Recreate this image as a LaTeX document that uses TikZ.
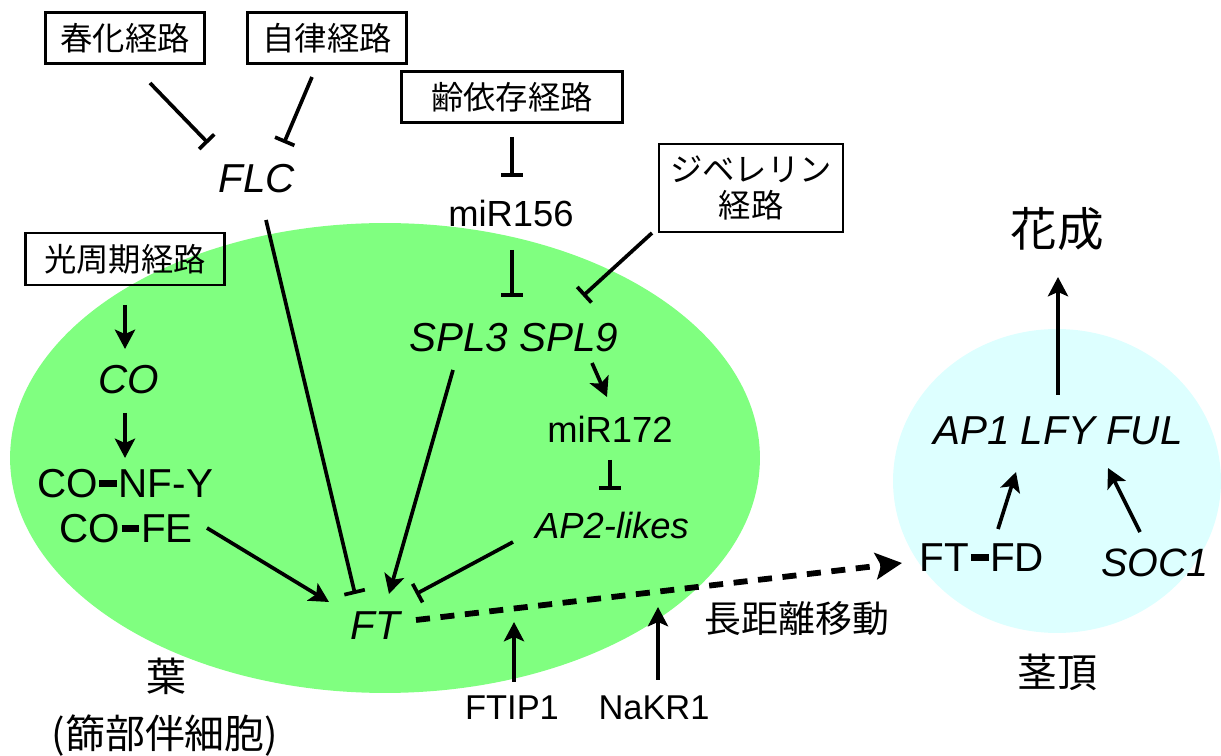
\documentclass[tikz,border=0pt]{standalone}
\usepackage{fontspec}
\setmainfont{Liberation Sans}
\newfontfamily\jp{Noto Sans CJK JP}
\usetikzlibrary{arrows.meta}
\definecolor{leafgreen}{RGB}{128,255,128}
\definecolor{apexcyan}{RGB}{221,255,255}
\newcommand\bnd{\kern1pt\rule[6pt]{10pt}{4pt}\kern1pt}
\begin{document}
\begin{tikzpicture}[x=0.02cm,y=-0.02cm,
  every node/.style={inner sep=0pt, outer sep=0pt},
  ln/.style={line width=2.1pt},
  act/.style={ln, -{Stealth[length=11pt,width=11.5pt,inset=2.5pt]}},
  inh/.style={ln, -{Bar[width=12pt]}},
  pbox/.style={draw, line width=1.2pt, font=\jp\fontsize{18.4}{20}\selectfont, align=center},
  gene/.style={font=\itshape\fontsize{23}{27}\selectfont, anchor=base},
  prot/.style={font=\fontsize{23}{27}\selectfont, anchor=base},
  rna/.style={font=\fontsize{20.7}{25}\selectfont, anchor=base},
  small/.style={font=\fontsize{19.6}{24}\selectfont, anchor=base},
  jlabel/.style={font=\jp\fontsize{22.7}{27}\selectfont},
]
\useasboundingbox (0,0) rectangle (1221,756);
% tissues
\fill[leafgreen] (385,458) ellipse [x radius=7.5cm, y radius=4.7cm];
\fill[apexcyan] (1057,481) ellipse [x radius=3.28cm, y radius=3.04cm];

% pathway boxes
\node[pbox, minimum width=3.18cm, minimum height=1.02cm] (vern) at (125,38) {春化経路};
\node[pbox, minimum width=3.18cm, minimum height=1.02cm] (auto) at (327,38) {自律経路};
\node[pbox, minimum width=4.42cm, minimum height=1.02cm] (age) at (512,97) {齢依存経路};
\node[pbox, minimum width=3.68cm, minimum height=1.76cm] (gib) at (751,188) {ジベレリン\\経路};
\node[pbox, minimum width=3.98cm, minimum height=1.04cm] (photo) at (125,259) {光周期経路};

% genes and products
\node[gene] (flc) at (257,193) {FLC};
\node[rna] (mir156) at (511,227) {miR156};
\node[gene] (spl) at (514,352) {SPL3 SPL9};
\node[rna] (mir172) at (610,443) {miR172};
\node[font=\itshape\fontsize{20.7}{25}\selectfont, anchor=base] (ap2) at (612,539) {AP2-likes};
\node[gene] (co) at (129,394) {CO};
\node[prot] (confy) at (125,498) {CO\bnd NF-Y};
\node[prot] (cofe) at (126,543) {CO\bnd FE};
\node[gene] (ft) at (375,640) {FT};
\node[small] (ftip1) at (512,720) {FTIP1};
\node[small] (nakr1) at (654,720) {NaKR1};
\node[gene] (ap1) at (1058,445) {AP1 LFY FUL};
\node[prot] (ftfd) at (982,572) {FT\bnd FD};
\node[font=\itshape\fontsize{22.5}{27}\selectfont, anchor=base] (soc1) at (1155,577) {SOC1};

% Japanese labels
\node[font=\jp\fontsize{26.5}{30}\selectfont] (flower) at (1057,229) {花成};
\node[jlabel] (leaf) at (166,676) {葉};
\node[jlabel] (cc) at (165,736) {(篩部伴細胞)};
\node[jlabel] (apex) at (1057,672) {茎頂};
\node[font=\jp\fontsize{21}{25}\selectfont] (lr) at (797,619) {長距離移動};

% connector end points
\coordinate (vern-o) at (150,83);   \coordinate (flc-i1) at (208,143);
\coordinate (auto-o) at (312,77);   \coordinate (flc-i2) at (284,143);
\coordinate (flc-o) at (266,220);   \coordinate (ft-i1) at (355,594);
\coordinate (age-o) at (512,137);   \coordinate (mir156-i) at (512,177);
\coordinate (mir156-o) at (512,250);\coordinate (spl-i1) at (512,297);
\coordinate (gib-o) at (652,233);   \coordinate (spl-i2) at (583,296);
\coordinate (photo-o) at (125,305); \coordinate (co-i) at (125,349);
\coordinate (co-o) at (125,413);    \coordinate (confy-i) at (125,458);
\coordinate (cofe-o) at (207,528);  \coordinate (ft-i2) at (329,602);
\coordinate (spl-o1) at (453,370);  \coordinate (ft-i3) at (389,594);
\coordinate (spl-o2) at (592,363);  \coordinate (mir172-i) at (607,397);
\coordinate (mir172-o) at (610,460);\coordinate (ap2-i) at (610,490);
\coordinate (ap2-o) at (513,542);   \coordinate (ft-i4) at (416,594);
\coordinate (ft-o) at (416,620);    \coordinate (ftfd-i) at (902,563);
\coordinate (ftip1-o) at (514,682); \coordinate (move-i1) at (514,622);
\coordinate (nakr1-o) at (658,680); \coordinate (move-i2) at (658,607);
\coordinate (ap1-o) at (1058,395);  \coordinate (flower-i) at (1058,277);
\coordinate (ftfd-o) at (998,529);  \coordinate (ap1-i1) at (1016,472);
\coordinate (soc1-o) at (1140,532); \coordinate (ap1-i2) at (1108,468);

% connectors
\draw[inh] (vern-o) -- (flc-i1);
\draw[inh] (auto-o) -- (flc-i2);
\draw[inh] (flc-o) -- (ft-i1);
\draw[inh] (age-o) -- (mir156-i);
\draw[inh] (mir156-o) -- (spl-i1);
\draw[inh] (gib-o) -- (spl-i2);
\draw[act] (photo-o) -- (co-i);
\draw[act] (co-o) -- (confy-i);
\draw[act] (cofe-o) -- (ft-i2);
\draw[act] (spl-o1) -- (ft-i3);
\draw[act] (spl-o2) -- (mir172-i);
\draw[inh] (mir172-o) -- (ap2-i);
\draw[inh] (ap2-o) -- (ft-i4);
\draw[line width=3.3pt, dash pattern=on 8pt off 6pt, -{Stealth[length=15pt,width=15pt,inset=3pt]}] (ft-o) -- (ftfd-i);
\draw[act] (ftip1-o) -- (move-i1);
\draw[act] (nakr1-o) -- (move-i2);
\draw[act] (ap1-o) -- (flower-i);
\draw[act] (ftfd-o) -- (ap1-i1);
\draw[act] (soc1-o) -- (ap1-i2);
\end{tikzpicture}
\end{document}
